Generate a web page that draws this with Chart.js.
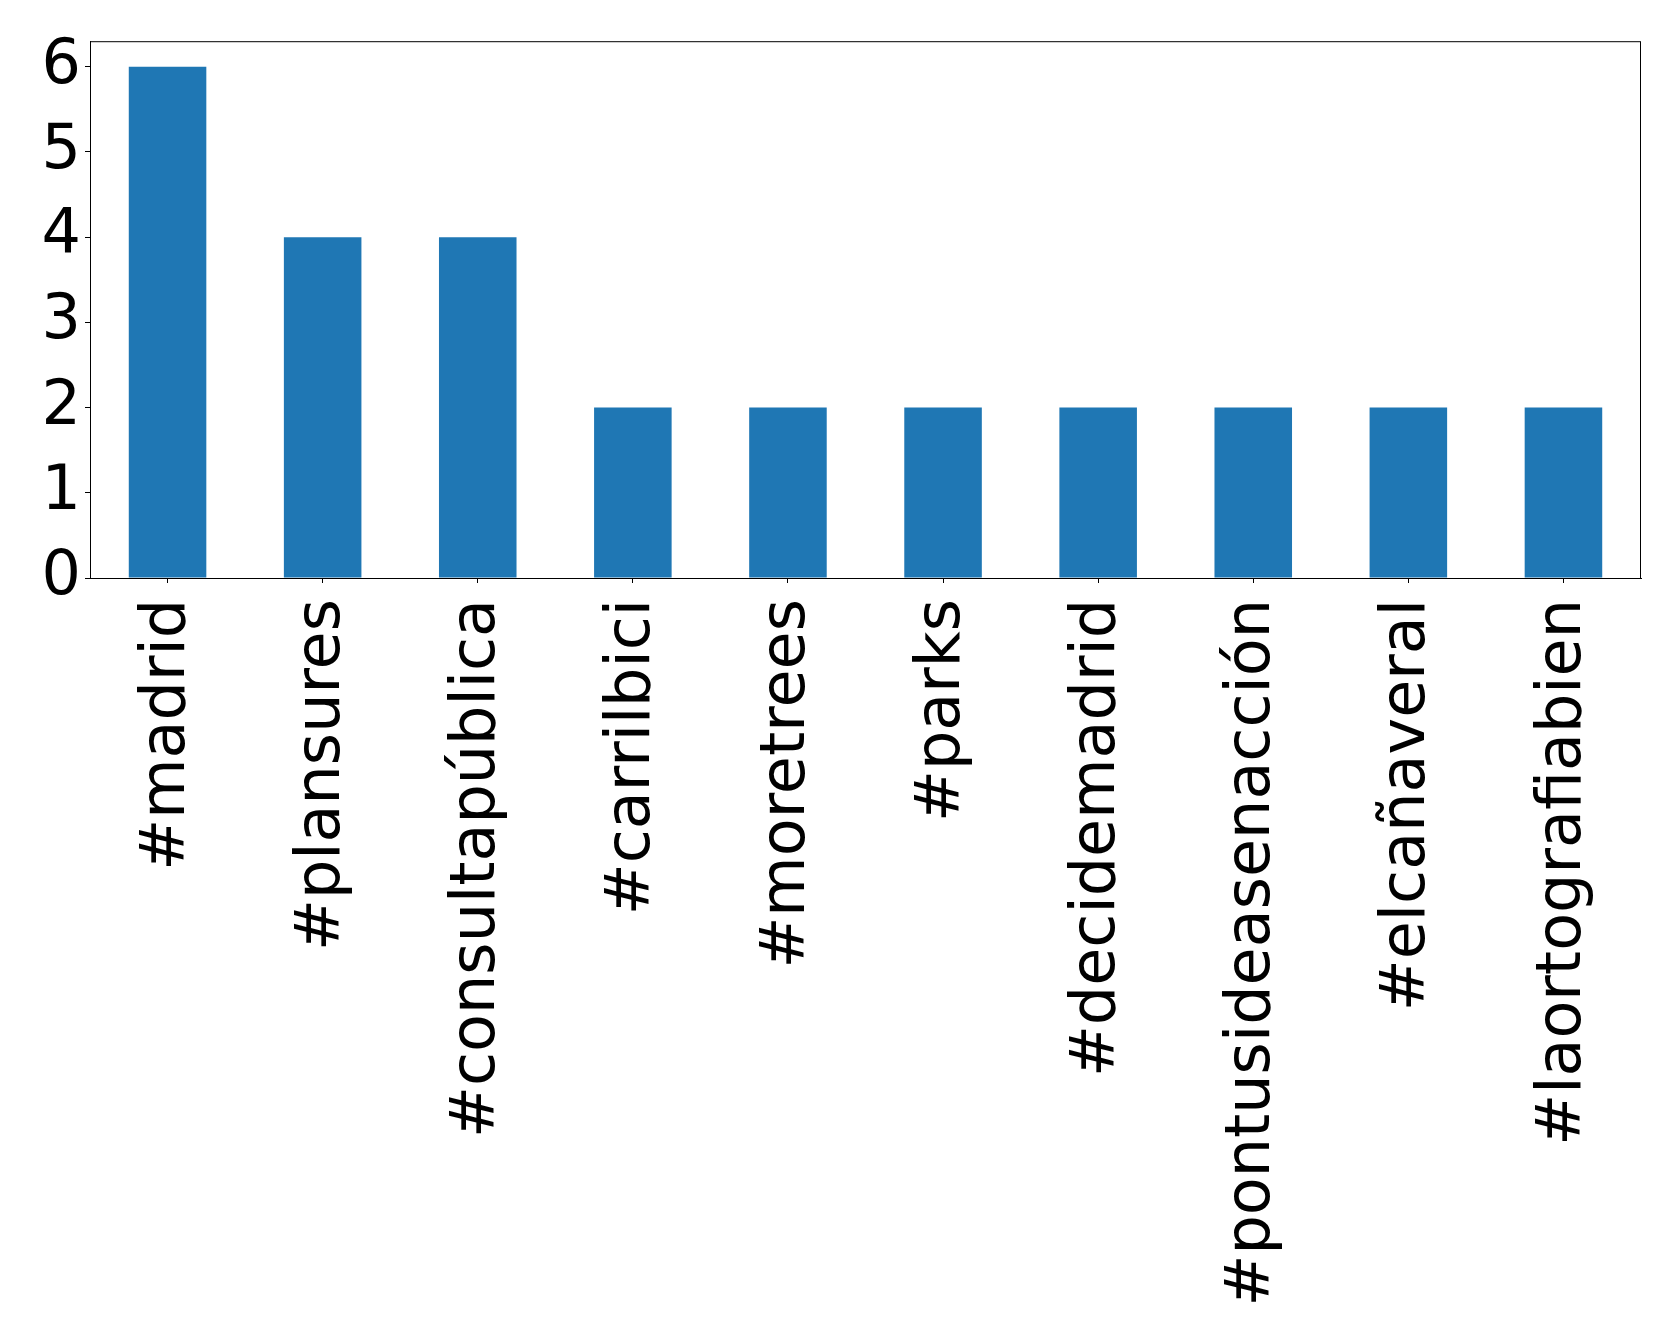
<!DOCTYPE html>
<html>
<head>
<meta charset="utf-8">
<script src="https://cdn.jsdelivr.net/npm/chart.js@4.4.0/dist/chart.umd.min.js"></script>
<style>
  html, body { margin: 0; padding: 0; background: #fff; }
  #wrap { width: 1679px; height: 1341px; }
</style>
</head>
<body>
<div id="wrap"><canvas id="grafico"></canvas></div>
<script>
// Dados do gráfico
const hashtags = ['#madrid', '#plansures', '#consultapública', '#carrilbici', '#moretrees',
                  '#parks', '#decidemadrid', '#pontusideasenacción', '#elcañaveral', '#laortografiabien'];
const contagens = [6, 4, 4, 2, 2, 2, 2, 2, 2, 2];
const yMax = 6.3;

Chart.defaults.font.family = "'DejaVu Sans', sans-serif";
Chart.defaults.color = '#000';

// Moldura completa em volta da área do gráfico (estilo matplotlib)
const moldura = {
    id: 'moldura',
    afterDraw(chart) {
        const { ctx, chartArea: a } = chart;
        ctx.save();
        ctx.strokeStyle = '#000';
        ctx.lineWidth = 1;
        ctx.strokeRect(a.left + 0.5, a.top + 0.5, a.right - a.left - 1, a.bottom - a.top);
        ctx.restore();
    }
};

const ctx = document.getElementById('grafico').getContext('2d');
new Chart(ctx, {
    type: 'bar',
    data: {
        labels: hashtags,
        datasets: [{
            data: contagens,
            backgroundColor: '#1f77b4',
            borderWidth: 0,
            barPercentage: 0.5,
            categoryPercentage: 1.0
        }]
    },
    options: {
        responsive: true,
        maintainAspectRatio: false,
        animation: false,
        layout: { padding: { top: 39, right: 38, left: 0, bottom: 0 } },
        plugins: {
            legend: { display: false },
            tooltip: { enabled: false }
        },
        scales: {
            x: {
                offset: true,
                grid: { display: true, offset: false, drawOnChartArea: false, tickLength: 5, color: '#000', lineWidth: 1 },
                border: { display: true, color: '#000', width: 1 },
                ticks: { font: { size: 62 }, minRotation: 90, maxRotation: 90, autoSkip: false, padding: 16 },
                afterFit: scale => { scale.height = 763; }
            },
            y: {
                min: 0,
                max: yMax,
                grid: { display: true, drawOnChartArea: false, tickLength: 5, color: '#000', lineWidth: 1 },
                border: { display: true, color: '#000', width: 1 },
                ticks: { stepSize: 1, includeBounds: false, font: { size: 62 }, padding: 4 },
                afterFit: scale => { scale.width = 90; }
            }
        }
    },
    plugins: [moldura]
});
</script>
</body>
</html>
